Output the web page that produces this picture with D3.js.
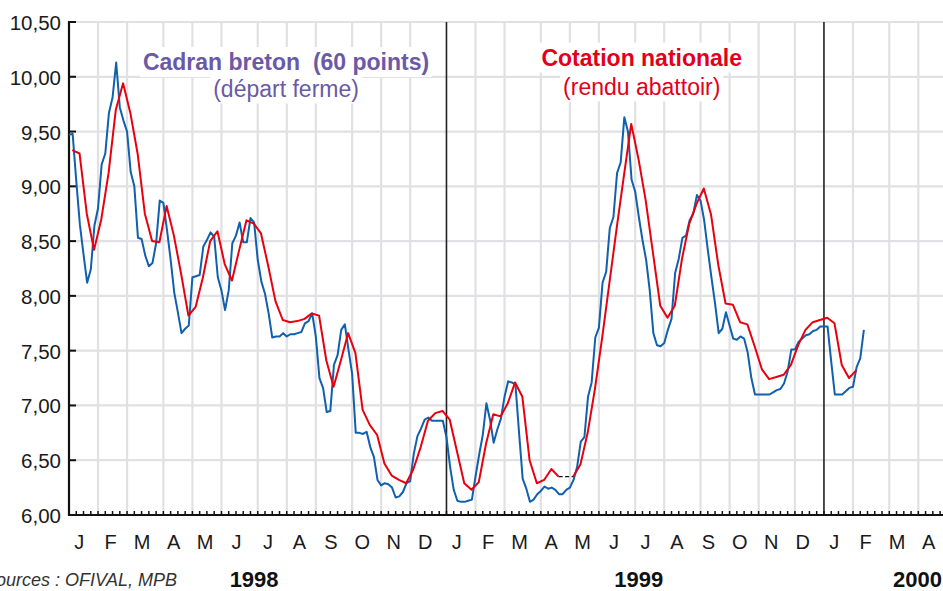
<!DOCTYPE html>
<html>
<head>
<meta charset="utf-8">
<script src="https://cdn.jsdelivr.net/npm/d3@7"></script>
<style>
html,body{margin:0;padding:0;background:#fff;}
svg{display:block;font-family:"Liberation Sans",Arial,Helvetica,sans-serif;}
</style>
</head>
<body>
<svg id="chart" width="943" height="591"></svg>
<script>
// ---------- DATA ----------
// Y axis tick values
const yTicks = [6.0, 6.5, 7.0, 7.5, 8.0, 8.5, 9.0, 9.5, 10.0, 10.5];
// month labels and week counts per month (4-4-5 calendar)
const years = ["1998", "1999", "2000"];
const monthLabels = ["J","F","M","A","M","J","J","A","S","O","N","D"];
const monthWeeks1998 = [4,4,5,4,4,5,4,4,5,4,4,5];
const monthWeeks1999 = [4,4,5,4,4,5,4,5,4,4,5,4];
const monthWeeks2000 = [4,5,4];
const monthLabels2000 = ["J","F","M","A"];
// Cadran breton (60 points), twice weekly quotations, starting week 0 of 1998
const cadranBreton = [
  9.47,9.48,9.05,8.65,8.38,8.12,8.24,8.64,8.80,9.20,
  9.30,9.67,9.81,10.13,9.72,9.60,9.50,9.13,9.00,8.53,
  8.52,8.37,8.27,8.30,8.48,8.87,8.85,8.60,8.33,8.03,
  7.85,7.66,7.70,7.73,8.17,8.18,8.19,8.45,8.51,8.58,
  8.54,8.17,8.05,7.87,8.05,8.48,8.55,8.67,8.49,8.49,
  8.71,8.67,8.33,8.13,8.02,7.84,7.62,7.63,7.63,7.66,
  7.63,7.65,7.65,7.66,7.67,7.75,7.77,7.84,7.63,7.25,
  7.16,6.94,6.95,7.37,7.46,7.69,7.74,7.51,7.29,6.75,
  6.75,6.74,6.76,6.62,6.53,6.32,6.27,6.29,6.28,6.25,
  6.16,6.17,6.21,6.29,6.31,6.56,6.72,6.79,6.87,6.89,
  6.86,6.86,6.86,6.86,6.71,6.44,6.23,6.13,6.12,6.12,
  6.13,6.14,6.35,6.55,6.73,7.02,6.87,6.66,6.78,6.88,
  7.08,7.22,7.21,7.19,6.75,6.33,6.24,6.12,6.14,6.19,
  6.22,6.26,6.24,6.25,6.23,6.19,6.19,6.23,6.25,6.32,
  6.44,6.67,6.71,7.08,7.21,7.62,7.71,8.12,8.22,8.62,
  8.72,9.12,9.22,9.63,9.50,9.06,8.95,8.72,8.51,8.33,
  8.05,7.66,7.55,7.54,7.57,7.69,7.79,8.21,8.34,8.53,
  8.55,8.69,8.75,8.92,8.87,8.69,8.42,8.17,7.93,7.66,
  7.70,7.85,7.73,7.61,7.60,7.63,7.61,7.48,7.25,7.10,
  7.10,7.10,7.10,7.10,7.12,7.14,7.15,7.20,7.31,7.51,
  7.51,7.58,7.61,7.64,7.65,7.68,7.69,7.72,7.72,7.72,
  7.40,7.10,7.10,7.10,7.13,7.16,7.17,7.35,7.43,7.69
];
// Cotation nationale (rendu abattoir), weekly; null = missing week
const cotationNationale = [
  9.33,9.30,8.75,8.42,8.70,9.12,9.70,9.94,9.67,9.30,
  8.75,8.50,8.49,8.82,8.55,8.20,7.82,7.90,8.17,8.50,
  8.59,8.29,8.14,8.42,8.69,8.66,8.57,8.27,7.95,7.78,
  7.76,7.77,7.79,7.84,7.82,7.41,7.17,7.41,7.66,7.48,
  6.96,6.82,6.73,6.47,6.36,6.32,6.29,6.42,6.62,6.86,
  6.93,6.95,6.87,6.58,6.29,6.23,6.30,6.65,6.92,6.90,
  7.02,7.21,7.08,6.50,6.29,6.32,6.42,6.35,null,6.35,
  6.46,6.75,7.15,7.62,8.12,8.62,9.10,9.57,9.25,8.87,
  8.39,7.91,7.80,7.91,8.34,8.66,8.84,8.98,8.74,8.28,
  7.93,7.92,7.76,7.74,7.54,7.33,7.24,7.26,7.28,7.37,
  7.55,7.69,7.76,7.78,7.80,7.75,7.37,7.25,7.32
];
const titleBlue = ["Cadran breton  (60 points)", "(départ ferme)"];
const titleRed = ["Cotation nationale", "(rendu abattoir)"];
const sourceText = "Sources : OFIVAL, MPB";

// ---------- CHART ----------
const svg = d3.select("#chart");
const W = 943, H = 591;
const plotLeft = 69, plotTop = 22, plotBottom = 515;
const weeksPerYear = 52;

const x = d3.scaleLinear().domain([0, 120.4]).range([plotLeft, W]);
const y = d3.scaleLinear().domain([6, 10.5]).range([plotBottom, plotTop]);

const gridColor = "#e1e1e5";
const blueColor = "#1060ad";
const redColor = "#e8000f";

function cumul(arr, start) { let s = start; return arr.map(w => (s += w)); }
const b1998 = cumul(monthWeeks1998, 0);
const b1999 = cumul(monthWeeks1999, weeksPerYear);
const b2000 = cumul(monthWeeks2000, 2 * weeksPerYear);
const yearEnds = [weeksPerYear, 2 * weeksPerYear];
const monthGrid = b1998.concat(b1999, b2000).filter(w => !yearEnds.includes(w));

const g = svg.append("g");

g.selectAll("line.hg").data(yTicks.filter(v => v > 6)).join("line")
  .attr("x1", plotLeft).attr("x2", W)
  .attr("y1", d => y(d)).attr("y2", d => y(d))
  .attr("stroke", gridColor).attr("stroke-width", 2.2);

g.selectAll("line.vg").data(monthGrid).join("line")
  .attr("x1", d => x(d)).attr("x2", d => x(d))
  .attr("y1", plotTop).attr("y2", plotBottom)
  .attr("stroke", gridColor).attr("stroke-width", 2.2);

function labelBlock(lines, cx, baselines, color) {
  const grp = svg.append("g");
  lines.forEach((t, i) => {
    const txt = grp.append("text")
      .attr("x", cx).attr("y", baselines[i])
      .attr("text-anchor", "middle")
      .attr("font-size", 23)
      .attr("font-weight", i === 0 ? "bold" : "normal")
      .attr("fill", color)
      .style("white-space", "pre")
      .text(t);
    const bb = txt.node().getBBox();
    grp.insert("rect", "text")
      .attr("x", bb.x - 3).attr("y", bb.y - 2)
      .attr("width", bb.width + 6).attr("height", bb.height + 4)
      .attr("fill", "#fff");
  });
}
labelBlock(titleBlue, x(29.9), [70, 96.5], "#6a5aa6");
labelBlock(titleRed, x(78.9), [65.5, 94.5], "#e2001a");

g.selectAll("line.ys").data(yearEnds).join("line")
  .attr("x1", d => x(d)).attr("x2", d => x(d))
  .attr("y1", plotTop).attr("y2", plotBottom)
  .attr("stroke", "#222").attr("stroke-width", 1.6);

svg.append("line").attr("x1", plotLeft).attr("x2", plotLeft).attr("y1", plotTop - 1).attr("y2", plotBottom + 1)
  .attr("stroke", "#111").attr("stroke-width", 2.2);
svg.append("line").attr("x1", plotLeft - 1).attr("x2", W).attr("y1", plotBottom).attr("y2", plotBottom)
  .attr("stroke", "#111").attr("stroke-width", 2.2);

svg.selectAll("line.yt").data(yTicks).join("line")
  .attr("x1", plotLeft).attr("x2", plotLeft + 7)
  .attr("y1", d => y(d)).attr("y2", d => y(d))
  .attr("stroke", "#111").attr("stroke-width", 2);
const fmt = v => d3.format(".2f")(v).replace(".", ",");
svg.selectAll("text.yl").data(yTicks).join("text")
  .attr("x", 61).attr("y", d => y(d) + 8)
  .attr("text-anchor", "end").attr("font-size", 20.5).attr("fill", "#1a1a1a")
  .text(fmt);

svg.selectAll("line.xt").data(d3.range(1, 121)).join("line")
  .attr("x1", d => x(d)).attr("x2", d => x(d))
  .attr("y1", plotBottom).attr("y2", plotBottom - 4)
  .attr("stroke", "#111").attr("stroke-width", 1.5);

const monthPos = [];
monthLabels.forEach((m, i) => monthPos.push({ m, w: (i + 0.5) * weeksPerYear / 12 }));
monthLabels.forEach((m, i) => monthPos.push({ m, w: weeksPerYear + (i + 0.5) * weeksPerYear / 12 }));
monthLabels2000.forEach((m, i) => monthPos.push({ m, w: 2 * weeksPerYear + (i + 0.5) * weeksPerYear / 12 }));
svg.selectAll("text.ml").data(monthPos).join("text")
  .attr("x", d => x(d.w) - 5.5).attr("y", 549)
  .attr("text-anchor", "middle").attr("font-size", 20).attr("fill", "#1a1a1a")
  .text(d => d.m);

// year labels: first two centred, last one right-aligned to the edge
const yearX = [x(25.5), x(78.5), W - 1];
svg.selectAll("text.yr").data(years).join("text")
  .attr("x", (d, i) => yearX[i]).attr("y", 587)
  .attr("text-anchor", (d, i) => i === 2 ? "end" : "middle")
  .attr("font-size", 22).attr("font-weight", "bold")
  .attr("fill", "#111").text(d => d);

svg.append("text").attr("x", 177).attr("y", 586)
  .attr("text-anchor", "end").attr("font-size", 18).attr("font-style", "italic")
  .attr("fill", "#333").text(sourceText);

const blueLine = d3.line().x((d, i) => x(i * 0.5)).y(d => y(d));
svg.append("path").datum(cadranBreton)
  .attr("d", blueLine).attr("fill", "none")
  .attr("stroke", blueColor).attr("stroke-width", 2).attr("stroke-linejoin", "round");

const redLine = d3.line().defined(d => d != null).x((d, i) => x(i + 0.45)).y(d => y(d));
svg.append("path").datum(cotationNationale)
  .attr("d", redLine).attr("fill", "none")
  .attr("stroke", redColor).attr("stroke-width", 2).attr("stroke-linejoin", "round");

const gaps = [];
cotationNationale.forEach((v, i) => {
  if (v == null) {
    let a = i - 1, b = i + 1;
    while (b < cotationNationale.length && cotationNationale[b] == null) b++;
    gaps.push([[a, cotationNationale[a]], [b, cotationNationale[b]]]);
  }
});
svg.selectAll("line.gap").data(gaps).join("line")
  .attr("x1", d => x(d[0][0] + 0.45)).attr("x2", d => x(d[1][0] + 0.45))
  .attr("y1", d => y(d[0][1])).attr("y2", d => y(d[1][1]))
  .attr("stroke", "#111").attr("stroke-width", 1.4).attr("stroke-dasharray", "4,2.5");
</script>
</body>
</html>
